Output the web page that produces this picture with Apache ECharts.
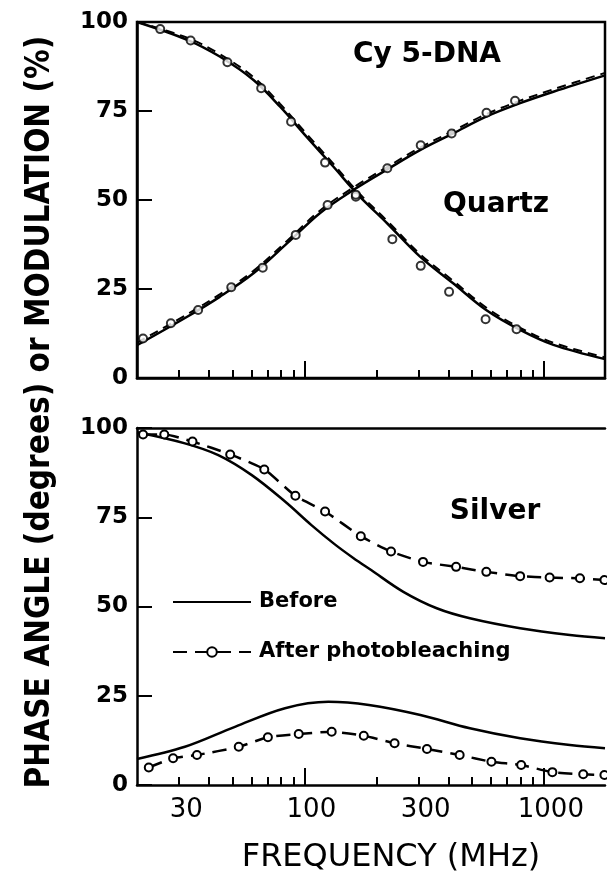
<!DOCTYPE html>
<html><head><meta charset="utf-8">
<script src="https://cdn.jsdelivr.net/npm/echarts@6/dist/echarts.min.js"></script>
<style>html,body{margin:0;padding:0;background:#fff}#c{width:607px;height:888px}</style>
</head><body><div id="c"></div>
<script>
// ---------- DATA ----------
// Quartz panel (top)
const qModBeforeFreq = [20, 32.4, 44.3, 61.3, 79.2, 102, 132, 168, 222, 304, 418, 574, 796, 1096, 1800];
const qModBeforeVal  = [100, 95, 90.3, 83.7, 76.2, 67.8, 59.4, 51.4, 43.4, 34.1, 26.6, 19.1, 13.5, 9.3, 5.3];
const qModAfterVal   = [100, 95.6, 91, 84.5, 77, 68.6, 60.2, 52.1, 44.1, 34.8, 27.3, 19.8, 14.1, 9.9, 5.8];
const qModDataFreq = [25, 33.5, 47.7, 66, 88, 122, 164, 233, 306, 402, 571, 769];
const qModDataVal  = [98, 94.8, 88.7, 81.4, 72.0, 60.5, 50.9, 39.0, 31.5, 24.2, 16.5, 13.7];

const qPhaseBeforeFreq = [20, 32.4, 44.3, 61.3, 84.6, 116, 160, 222, 304, 418, 574, 796, 1096, 1800];
const qPhaseBeforeVal  = [9.2, 17.2, 22.8, 29.4, 37.8, 46.3, 52.8, 58.6, 64.0, 68.7, 73.4, 77.2, 80.4, 85];
const qPhaseAfterVal   = [9.9, 17.9, 23.5, 30.1, 38.5, 47, 53.5, 59.3, 64.7, 69.4, 74.1, 77.9, 81.1, 85.7];
const qPhaseDataFreq = [21.2, 27.7, 36, 49.5, 67, 92, 125, 164, 222, 306, 412, 576, 758];
const qPhaseDataVal  = [11.1, 15.4, 19.1, 25.5, 31.0, 40.2, 48.6, 51.5, 58.9, 65.4, 68.7, 74.5, 77.9];

// Silver panel (bottom)
const sModBeforeFreq = [20, 31.7, 43.7, 60.3, 83, 107, 134, 160, 190, 259, 357, 491, 796, 1285, 1800];
const sModBeforeVal  = [98.8, 95.7, 92.4, 86.8, 79.4, 72.8, 67.4, 63.6, 60.2, 54.1, 49.5, 46.7, 43.9, 42.0, 41.1];
const sModAfterFreq = [21.2, 26.0, 34.1, 49.0, 68.0, 91.7, 122, 172, 230, 313, 430, 575, 796, 1057, 1414, 1790];
const sModAfterVal  = [98.2, 98.2, 96.2, 92.6, 88.4, 81.0, 76.6, 69.7, 65.4, 62.5, 61.1, 59.7, 58.5, 58.1, 57.9, 57.4];

const sPhaseBeforeFreq = [20, 31.7, 51.3, 83, 126, 186, 305, 491, 796, 1285, 1800];
const sPhaseBeforeVal  = [7.3, 10.7, 16.3, 21.5, 23.3, 22.4, 19.6, 15.9, 13.1, 11.2, 10.3];
const sPhaseAfterFreq = [22.4, 28.3, 35.6, 53.2, 70.4, 94.7, 130, 177, 238, 325, 445, 604, 804, 1085, 1460, 1790];
const sPhaseAfterVal  = [4.9, 7.5, 8.4, 10.7, 13.4, 14.3, 14.9, 13.8, 11.7, 10.1, 8.4, 6.5, 5.6, 3.6, 3.0, 2.8];

// Axes
const minorTicks = [30, 40, 50, 60, 70, 80, 90, 200, 300, 400, 500, 600, 700, 800, 900];
const majorTicks = [100, 1000];
const xTickLabels = [30, 100, 300, 1000];
const legendNames = ['Before', 'After photobleaching'];
const texts = {
  yName: 'PHASE ANGLE (degrees) or MODULATION (%)',
  xName: 'FREQUENCY (MHz)',
  sample: 'Cy 5-DNA',
  top: 'Quartz',
  bottom: 'Silver'
};

// ---------- CHART ----------
const zip = (f, v) => f.map((x, i) => [x, v[i]]);
const FONT = '"DejaVu Sans", "Noto Sans", sans-serif';
const BLACK = '#000';

function xAxis(grid, opt) {
  return Object.assign({
    type: 'log', gridIndex: grid, min: 20, max: 1800, position: 'bottom',
    splitLine: { show: false }, axisLine: { show: false },
    axisTick: { show: false }, axisLabel: { show: false }
  }, opt);
}
const minorTickOpt = { show: true, inside: true, length: 8, customValues: minorTicks, lineStyle: { color: BLACK, width: 2 } };
const majorTickOpt = { show: true, inside: true, length: 17, customValues: majorTicks, lineStyle: { color: BLACK, width: 2 } };
const axisLineOpt = { show: true, lineStyle: { color: BLACK, width: 2.5 } };

function yAxis(grid) {
  return {
    type: 'value', gridIndex: grid, min: 0, max: 100, interval: 25,
    splitLine: { show: false },
    axisLine: axisLineOpt,
    axisTick: { show: true, inside: true, length: 15, lineStyle: { color: BLACK, width: 2 } },
    axisLabel: { fontSize: 23, fontWeight: 'bold', color: BLACK, fontFamily: FONT, margin: 9 }
  };
}

const circleStyle = { color: '#fff', borderColor: BLACK, borderWidth: 2 };
function solid(name, data, xi, yi) {
  return { type: 'line', name, data, xAxisIndex: xi, yAxisIndex: yi, smooth: 0.35, symbol: 'none',
    lineStyle: { color: BLACK, width: 2.5 }, itemStyle: { color: BLACK }, silent: true, z: 3 };
}
function dashedFit(name, data, xi, yi) {
  return { type: 'line', name, data, xAxisIndex: xi, yAxisIndex: yi, smooth: 0.35, symbol: 'none',
    lineStyle: { color: BLACK, width: 2, type: [9, 6] }, itemStyle: { color: BLACK }, silent: true, z: 3 };
}
function circles(name, data, xi, yi) {
  return { type: 'scatter', name, data, xAxisIndex: xi, yAxisIndex: yi, symbol: 'circle', symbolSize: 8,
    itemStyle: circleStyle, silent: true, z: 4 };
}
function dashedCircles(name, data, xi, yi) {
  return { type: 'line', name, data, xAxisIndex: xi, yAxisIndex: yi, smooth: 0.2,
    symbol: 'circle', symbolSize: 8, showSymbol: true,
    lineStyle: { color: BLACK, width: 2.5, type: [14, 8] }, itemStyle: circleStyle, silent: true, z: 4 };
}

const chart = echarts.init(document.getElementById('c'), null, { renderer: 'canvas' });
chart.setOption({
  backgroundColor: '#fff',
  animation: false,
  grid: [
    { left: 137, top: 22, width: 468, height: 356, show: true, borderColor: BLACK, borderWidth: 2.5, backgroundColor: 'transparent' },
    { left: 137, top: 428, width: 468, height: 357 }
  ],
  xAxis: [
    xAxis(0, { axisLine: axisLineOpt, axisTick: minorTickOpt }),
    xAxis(0, { axisTick: majorTickOpt }),
    xAxis(1, { axisLine: axisLineOpt, axisTick: minorTickOpt,
      axisLabel: { show: true, customValues: xTickLabels, fontSize: 26, color: BLACK, fontFamily: FONT,
        margin: 12, padding: [0, 0, 0, 14], formatter: v => String(Math.round(v)) } }),
    xAxis(1, { axisTick: majorTickOpt }),
    xAxis(1, { position: 'top', axisLine: axisLineOpt })
  ],
  yAxis: [yAxis(0), yAxis(1)],
  legend: {
    data: [{ name: legendNames[0], itemStyle: { opacity: 0 } }, { name: legendNames[1] }],
    orient: 'vertical', left: 172, top: 590, padding: 0,
    itemWidth: 78, itemHeight: 12, itemGap: 26, selectedMode: false,
    textStyle: { fontSize: 21, fontWeight: 'bold', color: BLACK, fontFamily: FONT, lineHeight: 24, padding: [0, 0, 0, 3] }
  },
  series: [
    solid('Quartz modulation before', zip(qModBeforeFreq, qModBeforeVal), 0, 0),
    dashedFit('Quartz modulation after', zip(qModBeforeFreq, qModAfterVal), 0, 0),
    circles('Quartz modulation data', zip(qModDataFreq, qModDataVal), 0, 0),
    solid('Quartz phase before', zip(qPhaseBeforeFreq, qPhaseBeforeVal), 0, 0),
    dashedFit('Quartz phase after', zip(qPhaseBeforeFreq, qPhaseAfterVal), 0, 0),
    circles('Quartz phase data', zip(qPhaseDataFreq, qPhaseDataVal), 0, 0),
    solid(legendNames[0], zip(sModBeforeFreq, sModBeforeVal), 2, 1),
    solid(legendNames[0], zip(sPhaseBeforeFreq, sPhaseBeforeVal), 2, 1),
    dashedCircles(legendNames[1], zip(sModAfterFreq, sModAfterVal), 2, 1),
    dashedCircles(legendNames[1], zip(sPhaseAfterFreq, sPhaseAfterVal), 2, 1)
  ],
  graphic: [
    { type: 'text', x: 40, y: 412, rotation: Math.PI / 2,
      style: { text: texts.yName, fontSize: 33, fontWeight: 'bold', fill: BLACK,
        fontFamily: '"DejaVu Sans Condensed", "Liberation Sans Narrow", "DejaVu Sans", sans-serif',
        align: 'center', verticalAlign: 'middle' } },
    { type: 'text', x: 391, y: 858,
      style: { text: texts.xName, fontSize: 32, fill: BLACK, fontFamily: FONT, align: 'center', verticalAlign: 'middle' } },
    { type: 'text', x: 427, y: 55,
      style: { text: texts.sample, fontSize: 28, fontWeight: 'bold', fill: BLACK, fontFamily: FONT, align: 'center', verticalAlign: 'middle' } },
    { type: 'text', x: 496, y: 205,
      style: { text: texts.top, fontSize: 28, fontWeight: 'bold', fill: BLACK, fontFamily: FONT, align: 'center', verticalAlign: 'middle' } },
    { type: 'text', x: 495, y: 512,
      style: { text: texts.bottom, fontSize: 28, fontWeight: 'bold', fill: BLACK, fontFamily: FONT, align: 'center', verticalAlign: 'middle' } }
  ]
});
</script></body></html>
